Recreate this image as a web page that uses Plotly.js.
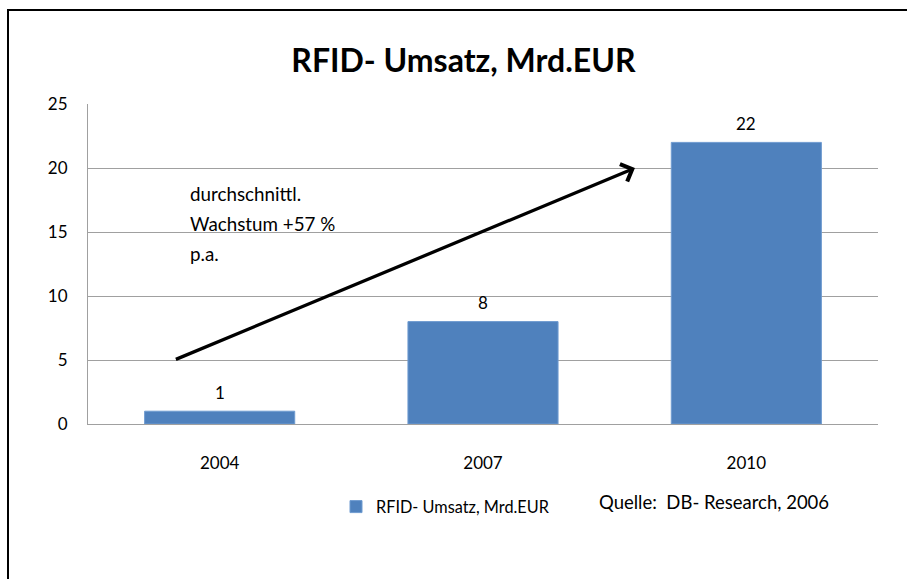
<!DOCTYPE html>
<html>
<head>
<meta charset="utf-8">
<script src="https://cdn.plot.ly/plotly-3.0.1.min.js"></script>
<style>
html,body{margin:0;padding:0;background:#fff;}
#wrap{position:relative;width:907px;height:579px;overflow:hidden;}
#chart{width:907px;height:579px;}
#frame{position:absolute;left:7px;top:9px;width:920px;height:600px;border-left:2px solid #000;border-top:2px solid #000;pointer-events:none;}
</style>
</head>
<body>
<div id="wrap"><div id="chart"></div><div id="frame"></div></div>
<script>
const categories = ['2004', '2007', '2010'];
const revenue = [1, 8, 22];
const seriesName = 'RFID- Umsatz, Mrd.EUR';
const chartTitle = 'RFID- Umsatz, Mrd.EUR';
const noteLines = ['durchschnittl.', 'Wachstum +57 %', 'p.a.'];
const sourceText = 'Quelle:  DB- Research, 2006';
const yTicks = [0, 5, 10, 15, 20, 25];

const FONT = 'Lato, "Open Sans", sans-serif';
const blue = '#4F81BD';
const positions = categories.map((c, i) => i);

const trace = {
  type: 'bar',
  x: positions,
  y: revenue,
  name: seriesName,
  marker: {color: blue, line: {color: '#6f9bd0', width: 1}},
  width: 0.57,
  showlegend: true,
  hoverinfo: 'y'
};

const annotations = [];
// data labels
positions.forEach((p, i) => {
  annotations.push({
    x: p, y: revenue[i], xref: 'x', yref: 'y',
    text: String(revenue[i]), showarrow: false,
    yshift: 19, font: {family: FONT, size: 17, color: '#000'}
  });
});
// arrow
annotations.push({
  xref: 'x', yref: 'y', axref: 'x', ayref: 'y',
  x: 1.577, y: 20, ax: -0.172, ay: 5,
  showarrow: true, arrowhead: 4, arrowsize: 1.1, arrowwidth: 3.3,
  arrowcolor: '#000', text: '', standoff: 0
});
// note lines
const noteY = [193, 223, 253];
noteLines.forEach((t, i) => {
  annotations.push({
    xref: 'paper', yref: 'paper',
    x: (188 - 88) / 790, y: (424 - noteY[i]) / 320,
    xanchor: 'left', yanchor: 'middle',
    text: t, showarrow: false, align: 'left',
    font: {family: FONT, size: 18.8, color: '#000'}
  });
});
// source
annotations.push({
  xref: 'paper', yref: 'paper',
  x: (714 - 88) / 790, y: (424 - 502) / 320,
  xanchor: 'center', yanchor: 'middle',
  text: sourceText, showarrow: false,
  font: {family: FONT, size: 18.5, color: '#000'}
});

const layout = {
  width: 907, height: 579,
  margin: {l: 88, r: 29, t: 104, b: 155, pad: 0},
  paper_bgcolor: '#fff', plot_bgcolor: '#fff',
  font: {family: FONT, color: '#000'},
  title: {
    text: '<b>' + chartTitle + '</b>',
    font: {family: FONT, size: 32, color: '#000'},
    x: 0.511, xref: 'container', xanchor: 'center',
    y: 1 - 61 / 579, yref: 'container', yanchor: 'middle'
  },
  xaxis: {
    range: [-0.5, 2.5], tickvals: positions, ticktext: categories,
    showgrid: false, showline: true, linecolor: '#a0a0a0', linewidth: 1,
    ticks: '', ticklabelstandoff: 24,
    tickfont: {family: FONT, size: 17, color: '#000'},
    zeroline: false, fixedrange: true
  },
  yaxis: {
    range: [0, 25], tickvals: yTicks,
    showgrid: true, gridcolor: '#a0a0a0', gridwidth: 1,
    showline: true, linecolor: '#a0a0a0', linewidth: 1,
    ticks: '', ticklabelstandoff: 16,
    tickfont: {family: FONT, size: 17, color: '#000'},
    zeroline: false, fixedrange: true
  },
  shapes: [{
    type: 'rect', xref: 'paper', yref: 'paper', layer: 'below',
    x0: (174 - 88) / 790, x1: (388 - 88) / 790,
    y0: (424 - 275) / 320, y1: (424 - 178) / 320,
    fillcolor: '#fff', line: {width: 0}
  }],
  annotations: annotations,
  showlegend: true,
  legend: {
    orientation: 'h', xref: 'paper', yref: 'paper',
    x: (336 - 88) / 790, y: (424 - 507) / 320,
    xanchor: 'left', yanchor: 'middle',
    font: {family: FONT, size: 16.3, color: '#000'},
    bgcolor: 'rgba(0,0,0,0)'
  }
};

Plotly.newPlot('chart', [trace], layout, {displayModeBar: false, staticPlot: true});
</script>
</body>
</html>
